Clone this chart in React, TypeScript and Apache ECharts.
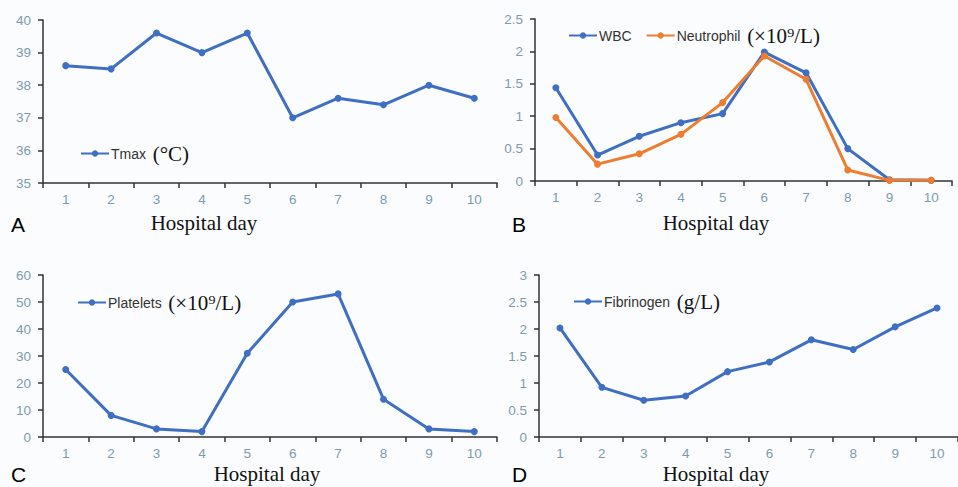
import React, { useEffect, useRef } from "react";
import * as echarts from "echarts";

const days = ["1", "2", "3", "4", "5", "6", "7", "8", "9", "10"];
const tmax = [38.6, 38.5, 39.6, 39.0, 39.6, 37.0, 37.6, 37.4, 38.0, 37.6];
const wbc = [1.44, 0.4, 0.69, 0.9, 1.04, 1.99, 1.67, 0.5, 0.02, 0.01];
const neutrophil = [0.98, 0.26, 0.42, 0.72, 1.21, 1.93, 1.57, 0.17, 0.01, 0.01];
const platelets = [25, 8, 3, 2, 31, 50, 53, 14, 3, 2];
const fibrinogen = [2.02, 0.92, 0.68, 0.76, 1.21, 1.39, 1.8, 1.62, 2.04, 2.39];

const BLUE = "#3F6FC2";
const ORANGE = "#EC7D31";
const LABEL = "#7E9BAD";
const SANS = "'Liberation Sans', Arial, sans-serif";
const SERIF = "'Liberation Serif', 'Times New Roman', serif";

export default function App() {
  const ref = useRef<HTMLDivElement>(null);
  useEffect(() => {
    const chart = echarts.init(ref.current!, null, { renderer: "svg" });
    const grids = [
      { left: 43, top: 20, width: 454, height: 163 },
      { left: 535, top: 19, width: 417, height: 162 },
      { left: 43, top: 275, width: 454, height: 162 },
      { left: 539, top: 275, width: 430, height: 162 },
    ];
    const yCfg = [
      { min: 35, max: 40, interval: 1 },
      { min: 0, max: 2.5, interval: 0.5 },
      { min: 0, max: 60, interval: 10 },
      { min: 0, max: 3, interval: 0.5 },
    ];
    const axisLine = { show: true, lineStyle: { color: "#333", width: 1.5 } };
    const axisTick = { show: true, length: 5, lineStyle: { color: "#333", width: 1.5 } };
    const xAxis = grids.map((_, i) => ({
      type: "category",
      gridIndex: i,
      data: days,
      boundaryGap: true,
      axisLine,
      axisTick: { ...axisTick, alignWithLabel: false },
      axisLabel: { color: LABEL, fontSize: 13.5, fontFamily: SANS, margin: 9 },
      splitLine: { show: false },
    }));
    const yAxis = yCfg.map((c, i) => ({
      type: "value",
      gridIndex: i,
      ...c,
      axisLine,
      axisTick,
      axisLabel: { color: LABEL, fontSize: 13.5, fontFamily: SANS, margin: 12 },
      splitLine: { show: false },
    }));
    const line = (name: string, data: number[], idx: number, color: string) => ({
      name,
      type: "line",
      xAxisIndex: idx,
      yAxisIndex: idx,
      data,
      symbol: "circle",
      symbolSize: 7,
      color,
      itemStyle: { color },
      lineStyle: { color, width: 3 },
      z: color === ORANGE ? 3 : 2,
    });
    const rich = {
      s: { fontFamily: SANS, fontSize: 14, color: "#333" },
      u: { fontFamily: SERIF, fontSize: 21, color: "#111" },
    };
    const legend = (data: string[], left: number, top: number, fmt: (n: string) => string) => ({
      data,
      left,
      top,
      itemWidth: 28,
      itemHeight: 8,
      itemGap: 14,
      textStyle: { rich, padding: [0, 0, 0, -3] },
      formatter: fmt,
    });
    const letter = (t: string, x: number, y: number) => ({
      type: "text",
      left: x,
      top: y,
      style: { text: t, font: `21px ${SANS}`, fill: "#000" },
    });
    const hd = (x: number, y: number) => ({
      type: "text",
      x,
      y,
      style: {
        text: "Hospital day",
        font: `21px ${SERIF}`,
        fill: "#111",
        textAlign: "center",
        textVerticalAlign: "middle",
      },
    });
    chart.setOption({
      animation: false,
      backgroundColor: "#FBFCFD",
      grid: grids,
      xAxis,
      yAxis,
      legend: [
        legend(["Tmax"], 75, 138, () => "{s|Tmax}  {u|(°C)}"),
        legend(["WBC", "Neutrophil"], 563, 20, (n) =>
          n === "WBC" ? "{s|WBC}" : "{s|Neutrophil}  {u|(×10⁹/L)}"
        ),
        legend(["Platelets"], 72, 287, () => "{s|Platelets}  {u|(×10⁹/L)}"),
        legend(["Fibrinogen"], 568, 286, () => "{s|Fibrinogen}  {u|(g/L)}"),
      ],
      series: [
        line("Tmax", tmax, 0, BLUE),
        line("WBC", wbc, 1, BLUE),
        line("Neutrophil", neutrophil, 1, ORANGE),
        line("Platelets", platelets, 2, BLUE),
        line("Fibrinogen", fibrinogen, 3, BLUE),
      ],
      graphic: [
        letter("A", 11, 214),
        letter("B", 512, 214),
        letter("C", 11, 464),
        letter("D", 512, 464),
        hd(204, 223),
        hd(716, 223),
        hd(267, 474),
        hd(716, 474),
      ],
    });
    return () => chart.dispose();
  }, []);
  return <div ref={ref} style={{ width: 958, height: 487, position: "fixed", left: 0, top: 0 }} />;
}
